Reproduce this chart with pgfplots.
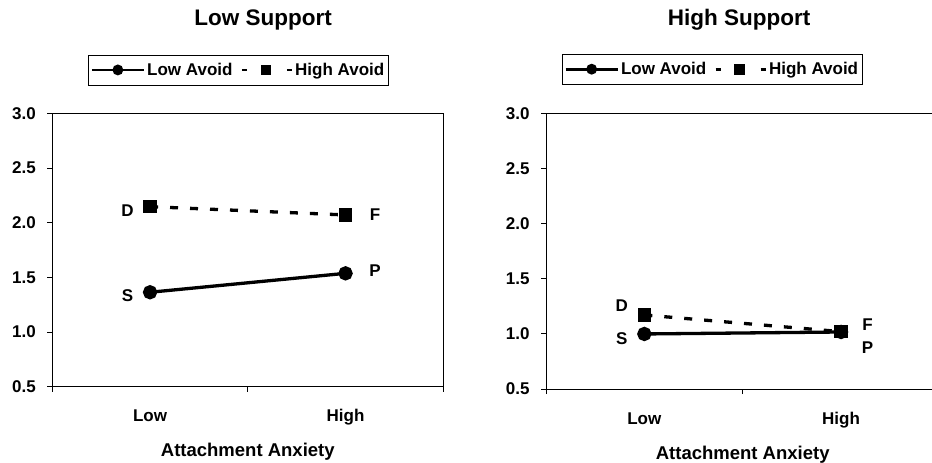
\documentclass[border=0pt]{standalone}
\usepackage{pgfplots}
\pgfplotsset{compat=1.18}
\usepackage{fontspec}
\setmainfont{Liberation Sans}
\newcommand{\tfont}{\bfseries\fontsize{17}{20}\selectfont}
\newcommand{\lstrut}{\rule{0pt}{16.5pt}}
\tikzset{lbl/.style={font=\tfont, inner sep=0pt, anchor=center}}
\pgfplotsset{
  panel/.style={
    scale only axis,
    anchor=south west,
    xmin=0.5, xmax=2.5, ymin=0.5, ymax=3.0,
    xtick={0.5,1.5,2.5}, xticklabels={},
    extra x ticks={1,2}, extra x tick labels={Low,High},
    extra x tick style={major tick length=0pt},
    ytick={0.5,1.0,1.5,2.0,2.5,3.0},
    xtick pos=bottom, ytick pos=left,
    tick align=outside,
    major tick length=5pt,
    axis line style={line width=0.8pt},
    every tick/.style={black, line width=0.8pt},
    /pgf/number format/assume math mode=true,
    /pgf/number format/fixed, /pgf/number format/fixed zerofill, /pgf/number format/precision=1,
    yticklabel style={font=\tfont, anchor=east, xshift=-8pt},
    xticklabel style={font=\tfont, anchor=base, yshift=-35pt},
    xlabel={Attachment Anxiety},
    xlabel style={font=\bfseries\fontsize{18.5}{22}\selectfont, anchor=base},
    title style={font=\bfseries\fontsize{22.5}{26}\selectfont, anchor=base, yshift=-6pt},
    legend columns=2,
    legend style={anchor=center, draw=black, line width=0.8pt, font=\tfont,
      inner xsep=2pt, inner ysep=2pt, nodes={text depth=5.5pt},
      /tikz/every even column/.append style={column sep=6pt}},
    legend cell align=left,
  },
  lowav/.style={black, line width=3.3pt, mark=*, mark size=5.5pt,
    legend image code/.code={\draw[mark repeat=2,mark phase=2,##1, line width=2.7pt, mark size=4pt] plot coordinates {(0pt,0pt)(26pt,0pt)(52pt,0pt)};}},
  highav/.style={black, line width=3.3pt, dash pattern=on 8pt off 12pt, mark=square*, mark size=5pt, mark options={solid},
    legend image code/.code={\draw[##1, solid, mark=none, line width=2.7pt] (0pt,0pt) -- (5pt,0pt);
      \draw[##1, solid, mark=none, line width=2.7pt] (45pt,0pt) -- (50pt,0pt);
      \draw[##1, mark size=3.7pt] plot coordinates {(24pt,0pt)};}},
}
\begin{document}
\begin{tikzpicture}
\begin{axis}[panel, at={(52.3pt,76.3pt)}, width=391pt, height=273.3pt,
  title={Low Support}, title style={at={(0.539,1.32)}},
  legend style={at={(0.476,1.159)}},
  xlabel style={at={(0.5,-0.256)}}]
\addplot[lowav] coordinates {(1,1.364) (2,1.537)};
\addlegendentry{\lstrut Low Avoid}
\addplot[highav] coordinates {(1,2.147) (2,2.071)};
\addlegendentry{\lstrut High Avoid}
\node[lbl] at (axis cs:0.885,2.109) {D};
\node[lbl] at (axis cs:0.885,1.332) {S};
\node[lbl] at (axis cs:2.151,1.560) {P};
\node[lbl] at (axis cs:2.151,2.078) {F};
\end{axis}
\begin{axis}[panel, at={(546pt,74pt)}, width=393.4pt, height=275.7pt,
  axis x line*=box, axis y line*=left,
  title={High Support}, title style={at={(0.491,1.317)}},
  legend style={at={(0.4225,1.160)}},
  xlabel style={at={(0.5,-0.255)}}]
\addplot[lowav] coordinates {(1,0.999) (2,1.017)};
\addlegendentry{\lstrut Low Avoid}
\addplot[highav] coordinates {(1,1.171) (2,1.02)};
\addlegendentry{\lstrut High Avoid}
\node[lbl] at (axis cs:0.885,1.254) {D};
\node[lbl] at (axis cs:0.885,0.960) {S};
\node[lbl] at (axis cs:2.135,0.876) {P};
\node[lbl] at (axis cs:2.135,1.087) {F};
\end{axis}
\pgfresetboundingbox
\useasboundingbox (0pt,0pt) rectangle (932pt,463pt);
\end{tikzpicture}
\end{document}
